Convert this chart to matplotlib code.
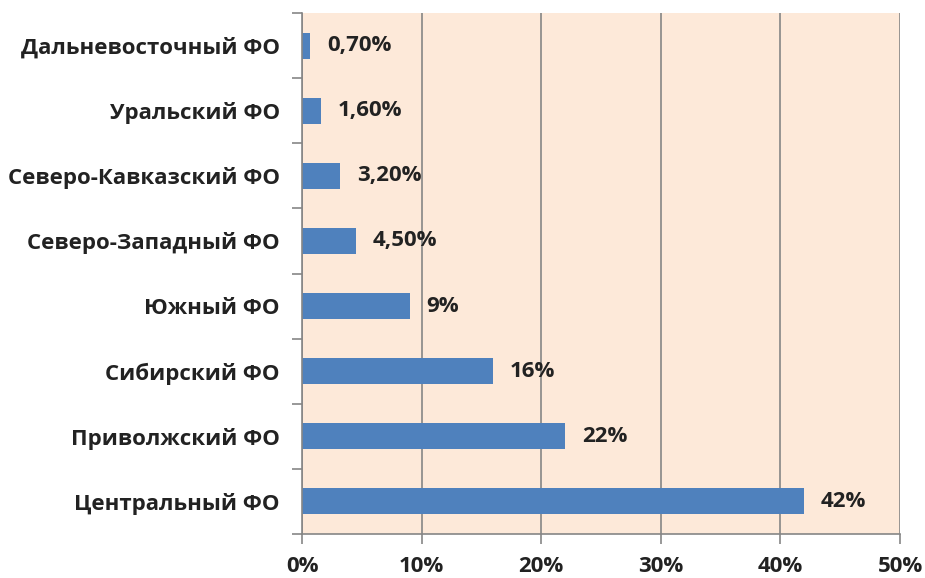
import numpy as np
import matplotlib.pyplot as plt
from matplotlib.ticker import FixedLocator

regions = ["Центральный ФО", "Приволжский ФО", "Сибирский ФО", "Южный ФО",
           "Северо-Западный ФО", "Северо-Кавказский ФО", "Уральский ФО",
           "Дальневосточный ФО"]
shares = [42, 22, 16, 9, 4.5, 3.2, 1.6, 0.7]
value_labels = ["42%", "22%", "16%", "9%", "4,50%", "3,20%", "1,60%", "0,70%"]
xticks = [0, 10, 20, 30, 40, 50]

plt.rcParams['font.family'] = ['Open Sans', 'DejaVu Sans']

fig = plt.figure(figsize=(9.25, 5.78), dpi=100)
ax = fig.add_axes([0.3265, 0.0761, 0.6465, 0.9014])
ax.set_facecolor("#FDE9D9")

grey = "#868686"
txt = "#222222"
y = np.arange(len(regions))
ax.barh(y, shares, height=0.4, color="#4F81BD", zorder=3)

for yi, v, lab in zip(y, shares, value_labels):
    ax.annotate(lab, (v, yi), xytext=(12, 0), textcoords="offset points",
                va="center", ha="left", fontsize=16, fontweight="bold",
                color=txt, zorder=4)

ax.set_xlim(0, 50)
ax.set_ylim(-0.5, len(regions) - 0.5)
ax.set_xticks(xticks)
ax.set_xticklabels([f"{t}%" for t in xticks], fontsize=16, fontweight="bold",
                   color=txt)
ax.set_yticks(y)
ax.set_yticklabels(regions, fontsize=16, fontweight="bold", color=txt)
ax.yaxis.set_minor_locator(FixedLocator(np.arange(-0.5, len(regions), 1)))
ax.tick_params(axis="y", which="major", length=0, pad=16)
ax.tick_params(axis="y", which="minor", length=7, color=grey, width=1.2)
ax.tick_params(axis="x", which="major", length=7, color=grey, width=1.2, pad=9)

ax.grid(axis="x", color=grey, linewidth=1.2, zorder=1)
for s in ["top", "right"]:
    ax.spines[s].set_visible(False)
for s in ["left", "bottom"]:
    ax.spines[s].set_color(grey)
    ax.spines[s].set_linewidth(1.2)
    ax.spines[s].set_zorder(5)

fig.savefig("out.png", dpi=100)
